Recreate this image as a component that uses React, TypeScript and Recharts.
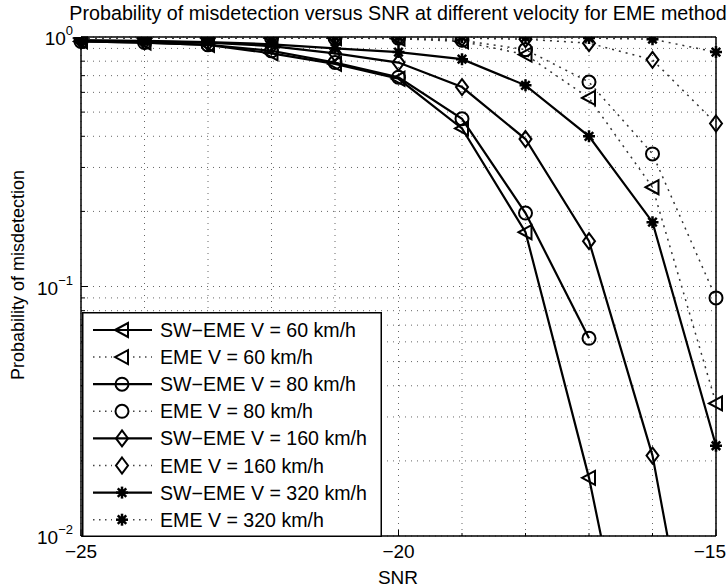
import React from 'react';
import {
  LineChart,
  Line,
  XAxis,
  YAxis,
  CartesianGrid,
  ReferenceLine,
} from 'recharts';

const SNR = [-25, -24, -23, -22, -21, -20, -19, -18, -17, -16, -15];

const SW_EME_60 = [0.96, 0.95, 0.93, 0.86, 0.78, 0.68, 0.43, 0.165, 0.0171, 0.001, null];
const EME_60 = [0.99, 0.99, 0.99, 0.99, 0.99, 0.985, 0.96, 0.85, 0.57, 0.25, 0.034];
const SW_EME_80 = [0.96, 0.95, 0.93, 0.88, 0.79, 0.69, 0.47, 0.197, 0.062, null, null];
const EME_80 = [0.99, 0.99, 0.99, 0.99, 0.99, 0.99, 0.97, 0.89, 0.66, 0.34, 0.09];
const SW_EME_160 = [0.97, 0.96, 0.95, 0.92, 0.86, 0.79, 0.63, 0.39, 0.152, 0.021, 0.0009];
const EME_160 = [1, 1, 1, 1, 1, 0.995, 0.99, 0.98, 0.945, 0.81, 0.45];
const SW_EME_320 = [0.97, 0.965, 0.955, 0.935, 0.9, 0.87, 0.815, 0.64, 0.4, 0.181, 0.023];
const EME_320 = [1, 1, 1, 1, 1, 1, 1, 0.995, 0.99, 0.98, 0.87];

const X_TICKS = SNR;
const X_LABELS = [-25, -20, -15];
const Y_TICKS = [
  0.01, 0.02, 0.03, 0.04, 0.05, 0.06, 0.07, 0.08, 0.09,
  0.1, 0.2, 0.3, 0.4, 0.5, 0.6, 0.7, 0.8, 0.9, 1,
];
const Y_LABELS: Record<string, string> = { '0.01': '\u22122', '0.1': '\u22121', '1': '0' };

const SERIES = [
  { key: 'sw60', name: 'SW\u2212EME V = 60 km/h', values: SW_EME_60, marker: 'tri', dotted: false },
  { key: 'eme60', name: 'EME V = 60 km/h', values: EME_60, marker: 'tri', dotted: true },
  { key: 'sw80', name: 'SW\u2212EME V = 80 km/h', values: SW_EME_80, marker: 'circle', dotted: false },
  { key: 'eme80', name: 'EME V = 80 km/h', values: EME_80, marker: 'circle', dotted: true },
  { key: 'sw160', name: 'SW\u2212EME V = 160 km/h', values: SW_EME_160, marker: 'diamond', dotted: false },
  { key: 'eme160', name: 'EME V = 160 km/h', values: EME_160, marker: 'diamond', dotted: true },
  { key: 'sw320', name: 'SW\u2212EME V = 320 km/h', values: SW_EME_320, marker: 'star', dotted: false },
  { key: 'eme320', name: 'EME V = 320 km/h', values: EME_320, marker: 'star', dotted: true },
];

const FONT = '"Liberation Sans", Arial, Helvetica, sans-serif';
const W = 727;
const H = 587;

function Marker({ type, cx, cy }: { type: string; cx: number; cy: number }) {
  if (type === 'tri') {
    return (
      <polygon
        points={`${cx - 7},${cy} ${cx + 6},${cy - 7} ${cx + 6},${cy + 7}`}
        fill="none"
        stroke="#000"
        strokeWidth={2}
      />
    );
  }
  if (type === 'circle') {
    return <circle cx={cx} cy={cy} r={6.5} fill="none" stroke="#000" strokeWidth={2} />;
  }
  if (type === 'diamond') {
    return (
      <polygon
        points={`${cx},${cy - 8} ${cx + 6},${cy} ${cx},${cy + 8} ${cx - 6},${cy}`}
        fill="none"
        stroke="#000"
        strokeWidth={2}
      />
    );
  }
  const arms = [0, 45, 90, 135].map(a => {
    const r = (a * Math.PI) / 180;
    const dx = Math.cos(r) * 6;
    const dy = Math.sin(r) * 6;
    return <line key={a} x1={cx - dx} y1={cy - dy} x2={cx + dx} y2={cy + dy} stroke="#000" strokeWidth={2.5} />;
  });
  return (
    <g>
      {arms}
      <circle cx={cx} cy={cy} r={3.5} fill="#000" />
    </g>
  );
}

function makeDot(type: string) {
  return (props: any) => {
    const { cx, cy, value, index } = props;
    if (cx == null || cy == null || value == null || value < 0.01) return <g key={`e-${index}`} />;
    return (
      <g key={`d-${index}`}>
        <Marker type={type} cx={cx} cy={cy} />
      </g>
    );
  };
}

function XTick(props: any) {
  const { x, y, payload } = props;
  const major = X_LABELS.includes(payload.value);
  const last = payload.value === -15;
  return (
    <g>
      <line x1={x} y1={y} x2={x} y2={y - (major ? 6 : 3)} stroke="#000" strokeWidth={1} />
      {major && (
        <text
          x={last ? x + 10 : x}
          y={y + 22}
          textAnchor={last ? 'end' : 'middle'}
          fontSize={19}
          fontFamily={FONT}
          fill="#000"
        >
          {String(payload.value).replace('-', '\u2212')}
        </text>
      )}
    </g>
  );
}

function YTick(props: any) {
  const { x, y, payload } = props;
  const label = Y_LABELS[String(payload.value)];
  return (
    <g>
      <line x1={x} y1={y} x2={x + (label ? 7 : 4)} y2={y} stroke="#000" strokeWidth={1} />
      {label && (
        <text x={x - 8} y={y + 8} textAnchor="end" fontSize={19} fontFamily={FONT} fill="#000">
          <tspan>10</tspan>
          <tspan dy={-10} fontSize={13}>{label}</tspan>
        </text>
      )}
    </g>
  );
}

function LegendBox() {
  const rowH = 27.1;
  return (
    <svg
      width={300}
      height={225}
      style={{ position: 'absolute', left: 82, top: 312 }}
    >
      <rect x={0.75} y={0.75} width={298.5} height={223.5} fill="#fff" stroke="#000" strokeWidth={1.5} />
      {SERIES.map((s, i) => {
        const cy = 18 + rowH * i;
        return (
          <g key={s.key}>
            {s.dotted ? (
              <>
                <line x1={11} y1={cy} x2={30} y2={cy} stroke="#444" strokeWidth={1.5} strokeDasharray="1.5 4.5" />
                <line x1={51} y1={cy} x2={70} y2={cy} stroke="#444" strokeWidth={1.5} strokeDasharray="1.5 4.5" />
              </>
            ) : (
              <line x1={11} y1={cy} x2={70} y2={cy} stroke="#000" strokeWidth={2.2} />
            )}
            <Marker type={s.marker} cx={40} cy={cy} />
            <text x={78} y={cy + 7} fontSize={19.6} fontFamily={FONT} fill="#000">
              {s.name}
            </text>
          </g>
        );
      })}
    </svg>
  );
}

export default function App() {
  const data = SNR.map((snr, i) => {
    const row: Record<string, number | null> = { snr };
    SERIES.forEach(s => {
      row[s.key] = s.values[i];
    });
    return row;
  });

  return (
    <div style={{ position: 'absolute', left: 0, top: 0, width: W, height: H, background: '#fff' }}>
      <LineChart
        width={W}
        height={H}
        data={data}
        margin={{ top: 37, right: 11, bottom: 0, left: 0 }}
      >
        <CartesianGrid stroke="#666" strokeDasharray="1 5" strokeWidth={1} />
        <XAxis
          dataKey="snr"
          type="number"
          domain={[-25, -15]}
          ticks={X_TICKS}
          interval={0}
          height={51}
          tickSize={0}
          tickMargin={0}
          tickLine={false}
          tick={<XTick />}
          axisLine={{ stroke: '#000', strokeWidth: 1.5 }}
        />
        <YAxis
          type="number"
          scale="log"
          domain={[0.01, 1]}
          allowDataOverflow
          ticks={Y_TICKS}
          interval={0}
          width={81}
          tickSize={0}
          tickMargin={0}
          tickLine={false}
          tick={<YTick />}
          axisLine={{ stroke: '#000', strokeWidth: 1.5 }}
        />
        <ReferenceLine x={-15} stroke="#000" strokeWidth={1.5} />
        <ReferenceLine y={1} stroke="#000" strokeWidth={1.5} />
        {SERIES.map(s => (
          <Line
            key={s.key}
            dataKey={s.key}
            name={s.name}
            type="linear"
            stroke={s.dotted ? '#333' : '#000'}
            strokeWidth={s.dotted ? 1.5 : 2.2}
            strokeDasharray={s.dotted ? '2 5' : undefined}
            dot={makeDot(s.marker)}
            activeDot={false}
            isAnimationActive={false}
          />
        ))}
      </LineChart>
      <svg width={W} height={H} style={{ position: 'absolute', left: 0, top: 0, pointerEvents: 'none' }}>
        <text x={398} y={20} textAnchor="middle" fontSize={19.7} fontFamily={FONT} fill="#000">
          Probability of misdetection versus SNR at different velocity for EME method
        </text>
        <text x={398} y={584} textAnchor="middle" fontSize={19} fontFamily={FONT} fill="#000">
          SNR
        </text>
        <text
          x={0}
          y={0}
          transform="translate(24,275) rotate(-90)"
          textAnchor="middle"
          fontSize={18}
          fontFamily={FONT}
          fill="#000"
        >
          Probability of misdetection
        </text>
      </svg>
      <LegendBox />
    </div>
  );
}
